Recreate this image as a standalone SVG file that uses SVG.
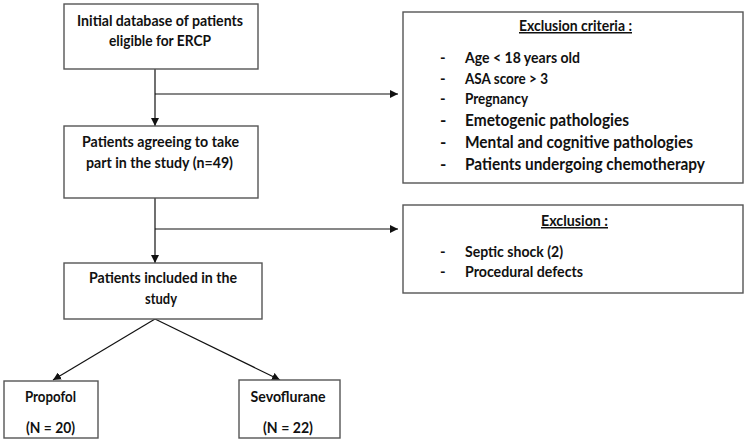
<svg xmlns="http://www.w3.org/2000/svg" width="750" height="440" viewBox="0 0 750 440">
  <style>
    .box { fill: #ffffff; stroke: #555555; stroke-width: 1.4; }
    .t { font-family: Lato, "Liberation Sans", sans-serif; font-weight: bold; font-size: 15px; fill: #111111; }
    .c { text-anchor: middle; }
    .big { font-size: 17px; }
    .u { text-decoration: underline; }
    .conn { stroke: #111111; stroke-width: 1.2; fill: none; }
  </style>
  <defs>
    <marker id="arr" viewBox="0 0 10 10" refX="10" refY="5" markerWidth="8" markerHeight="8" markerUnits="userSpaceOnUse" orient="auto">
      <path d="M0,0 L10,5 L0,10 Z" fill="#111111"/>
    </marker>
  </defs>

  <g id="connectors">
    <line class="conn" x1="155" y1="69" x2="155" y2="126" marker-end="url(#arr)"/>
    <line class="conn" x1="155" y1="94" x2="398" y2="94" marker-end="url(#arr)"/>
    <line class="conn" x1="155" y1="198" x2="155" y2="263" marker-end="url(#arr)"/>
    <line class="conn" x1="155" y1="229" x2="398" y2="229" marker-end="url(#arr)"/>
    <line class="conn" x1="155" y1="319" x2="53" y2="380" marker-end="url(#arr)"/>
    <line class="conn" x1="155" y1="319" x2="280" y2="380" marker-end="url(#arr)"/>
  </g>

  <g id="initial">
    <rect class="box" x="64" y="4" width="194" height="65"/>
    <text class="t c" x="160" y="26" textLength="166" lengthAdjust="spacingAndGlyphs">Initial database of patients</text>
    <text class="t c" x="160" y="46" textLength="102" lengthAdjust="spacingAndGlyphs">eligible for ERCP</text>
  </g>

  <g id="agreeing">
    <rect class="box" x="64" y="126" width="194" height="72"/>
    <text class="t c" x="160.5" y="147" textLength="157" lengthAdjust="spacingAndGlyphs">Patients agreeing to take</text>
    <text class="t c" x="159.5" y="168" textLength="147" lengthAdjust="spacingAndGlyphs">part in the study (n=49)</text>
  </g>

  <g id="included">
    <rect class="box" x="64" y="263" width="198" height="56"/>
    <text class="t c" x="163" y="283" textLength="148" lengthAdjust="spacingAndGlyphs">Patients included in the</text>
    <text class="t c" x="161" y="304" textLength="32" lengthAdjust="spacingAndGlyphs">study</text>
  </g>

  <g id="propofol">
    <rect class="box" x="4" y="381" width="94" height="57"/>
    <text class="t c" x="50.5" y="402" textLength="51" lengthAdjust="spacingAndGlyphs">Propofol</text>
    <text class="t c" x="50.5" y="433" textLength="49" lengthAdjust="spacingAndGlyphs">(N = 20)</text>
  </g>

  <g id="sevoflurane">
    <rect class="box" x="239" y="380" width="101" height="58"/>
    <text class="t c" x="288" y="402" textLength="75" lengthAdjust="spacingAndGlyphs">Sevoflurane</text>
    <text class="t c" x="288" y="433" textLength="50" lengthAdjust="spacingAndGlyphs">(N = 22)</text>
  </g>

  <g id="exclusion-criteria">
    <rect class="box" x="403" y="12" width="340" height="171"/>
    <text class="t c u" x="575.5" y="31" textLength="113" lengthAdjust="spacingAndGlyphs">Exclusion criteria :</text>
    <text class="t" x="440" y="63">-</text>
    <text class="t" x="465" y="63" textLength="115" lengthAdjust="spacingAndGlyphs">Age &lt; 18 years old</text>
    <text class="t" x="440" y="84">-</text>
    <text class="t" x="465" y="84" textLength="83" lengthAdjust="spacingAndGlyphs">ASA score &gt; 3</text>
    <text class="t" x="440" y="104">-</text>
    <text class="t" x="465" y="104" textLength="63" lengthAdjust="spacingAndGlyphs">Pregnancy</text>
    <text class="t big" x="440" y="126">-</text>
    <text class="t big" x="465" y="126" textLength="164" lengthAdjust="spacingAndGlyphs">Emetogenic pathologies</text>
    <text class="t big" x="440" y="148">-</text>
    <text class="t big" x="465" y="148" textLength="228" lengthAdjust="spacingAndGlyphs">Mental and cognitive pathologies</text>
    <text class="t big" x="440" y="170">-</text>
    <text class="t big" x="465" y="170" textLength="240" lengthAdjust="spacingAndGlyphs">Patients undergoing chemotherapy</text>
  </g>

  <g id="exclusion">
    <rect class="box" x="403" y="205" width="340" height="88"/>
    <text class="t c u" x="574.5" y="226" textLength="67" lengthAdjust="spacingAndGlyphs">Exclusion :</text>
    <text class="t" x="440" y="257">-</text>
    <text class="t" x="465" y="257" textLength="98" lengthAdjust="spacingAndGlyphs">Septic shock (2)</text>
    <text class="t" x="440" y="277">-</text>
    <text class="t" x="465" y="277" textLength="118" lengthAdjust="spacingAndGlyphs">Procedural defects</text>
  </g>
</svg>
